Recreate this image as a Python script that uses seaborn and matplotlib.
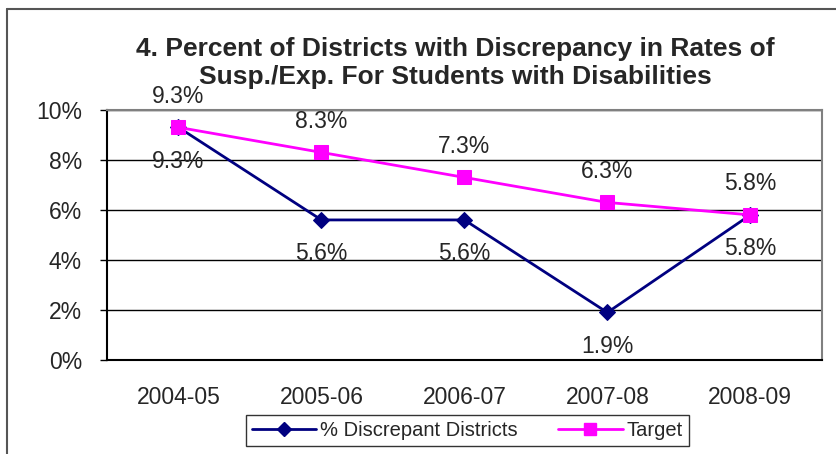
import matplotlib
matplotlib.use("Agg")
import matplotlib.pyplot as plt
import seaborn as sns
import pandas as pd
from matplotlib.lines import Line2D
from matplotlib.ticker import FuncFormatter, FixedLocator

years = ["2004-05", "2005-06", "2006-07", "2007-08", "2008-09"]
discrepant = [9.3, 5.6, 5.6, 1.9, 5.8]
target = [9.3, 8.3, 7.3, 6.3, 5.8]

sns.set_style("white")
plt.rcParams["font.family"] = ["Liberation Sans", "DejaVu Sans"]

df_d = pd.DataFrame({"Year": years, "Value": discrepant})
df_t = pd.DataFrame({"Year": years, "Value": target})

fig = plt.figure(figsize=(8.36, 4.54), dpi=100)
ax = fig.add_axes([0.128, 0.207, 0.855, 0.551])

sns.lineplot(data=df_d, x="Year", y="Value", ax=ax, color="#000080",
             marker="D", markersize=8, linewidth=2, markeredgecolor="#000080",
             label="% Discrepant Districts", legend=False)
sns.lineplot(data=df_t, x="Year", y="Value", ax=ax, color="#ff00ff",
             marker="s", markersize=10, linewidth=2, markeredgecolor="#ff00ff",
             label="Target", legend=False)

for i, v in enumerate(target):
    ax.annotate(f"{v:.1f}%", (i, v), xytext=(0, 31), textcoords="offset pixels",
                ha="center", va="center", fontsize=16.5, annotation_clip=False)
for i, v in enumerate(discrepant):
    ax.annotate(f"{v:.1f}%", (i, v), xytext=(0, -34), textcoords="offset pixels",
                ha="center", va="center", fontsize=16.5, annotation_clip=False)

ax.set_xlim(-0.5, 4.5)
ax.set_ylim(0, 10)
ax.set_yticks([0, 2, 4, 6, 8, 10])
ax.yaxis.set_major_formatter(FuncFormatter(lambda v, p: f"{v:.0f}%"))
ax.yaxis.grid(True, color="black", linewidth=1)
ax.set_xticks(range(len(years)))
ax.set_xticklabels(years)
ax.xaxis.set_minor_locator(FixedLocator([i + 0.5 for i in range(-1, len(years))]))
ax.tick_params(axis="x", which="major", length=0, labelsize=16.5, pad=19)
ax.tick_params(axis="x", which="minor", length=5, width=1, color="black", direction="out")
ax.tick_params(axis="y", length=5, width=1, color="black", direction="out",
               labelsize=16.5, left=True, pad=13)
ax.set_xlabel("")
ax.set_ylabel("")
for s in ax.spines.values():
    s.set_color("#808080")
    s.set_linewidth(1.5)
ax.spines["left"].set_color("black")
ax.spines["bottom"].set_color("black")

fig.text(0.545, 0.862, "4. Percent of Districts with Discrepancy in Rates of\nSusp./Exp. For Students with Disabilities",
         ha="center", va="center", fontsize=19, fontweight="bold", linespacing=1.2)

handles = [
    Line2D([], [], color="#000080", marker="D", markersize=7, linewidth=2),
    Line2D([], [], color="#ff00ff", marker="s", markersize=9, linewidth=2),
]
leg = fig.legend(handles, ["% Discrepant Districts", "Target"], loc="center",
                 bbox_to_anchor=(0.559, 0.051), ncol=2, frameon=True, fancybox=False,
                 fontsize=14.5, handlelength=3.2, handletextpad=0.2, columnspacing=2.0,
                 borderpad=0.3)
leg.get_frame().set_edgecolor("black")
leg.get_frame().set_linewidth(1)

fig.add_artist(Line2D([0.0084, 0.0084], [0, 0.98], color="#555555", linewidth=1.5,
                      transform=fig.transFigure))
fig.add_artist(Line2D([0.0084, 1.0], [0.98, 0.98], color="#555555", linewidth=1.5,
                      transform=fig.transFigure))

fig.savefig("out.png", dpi=100)
